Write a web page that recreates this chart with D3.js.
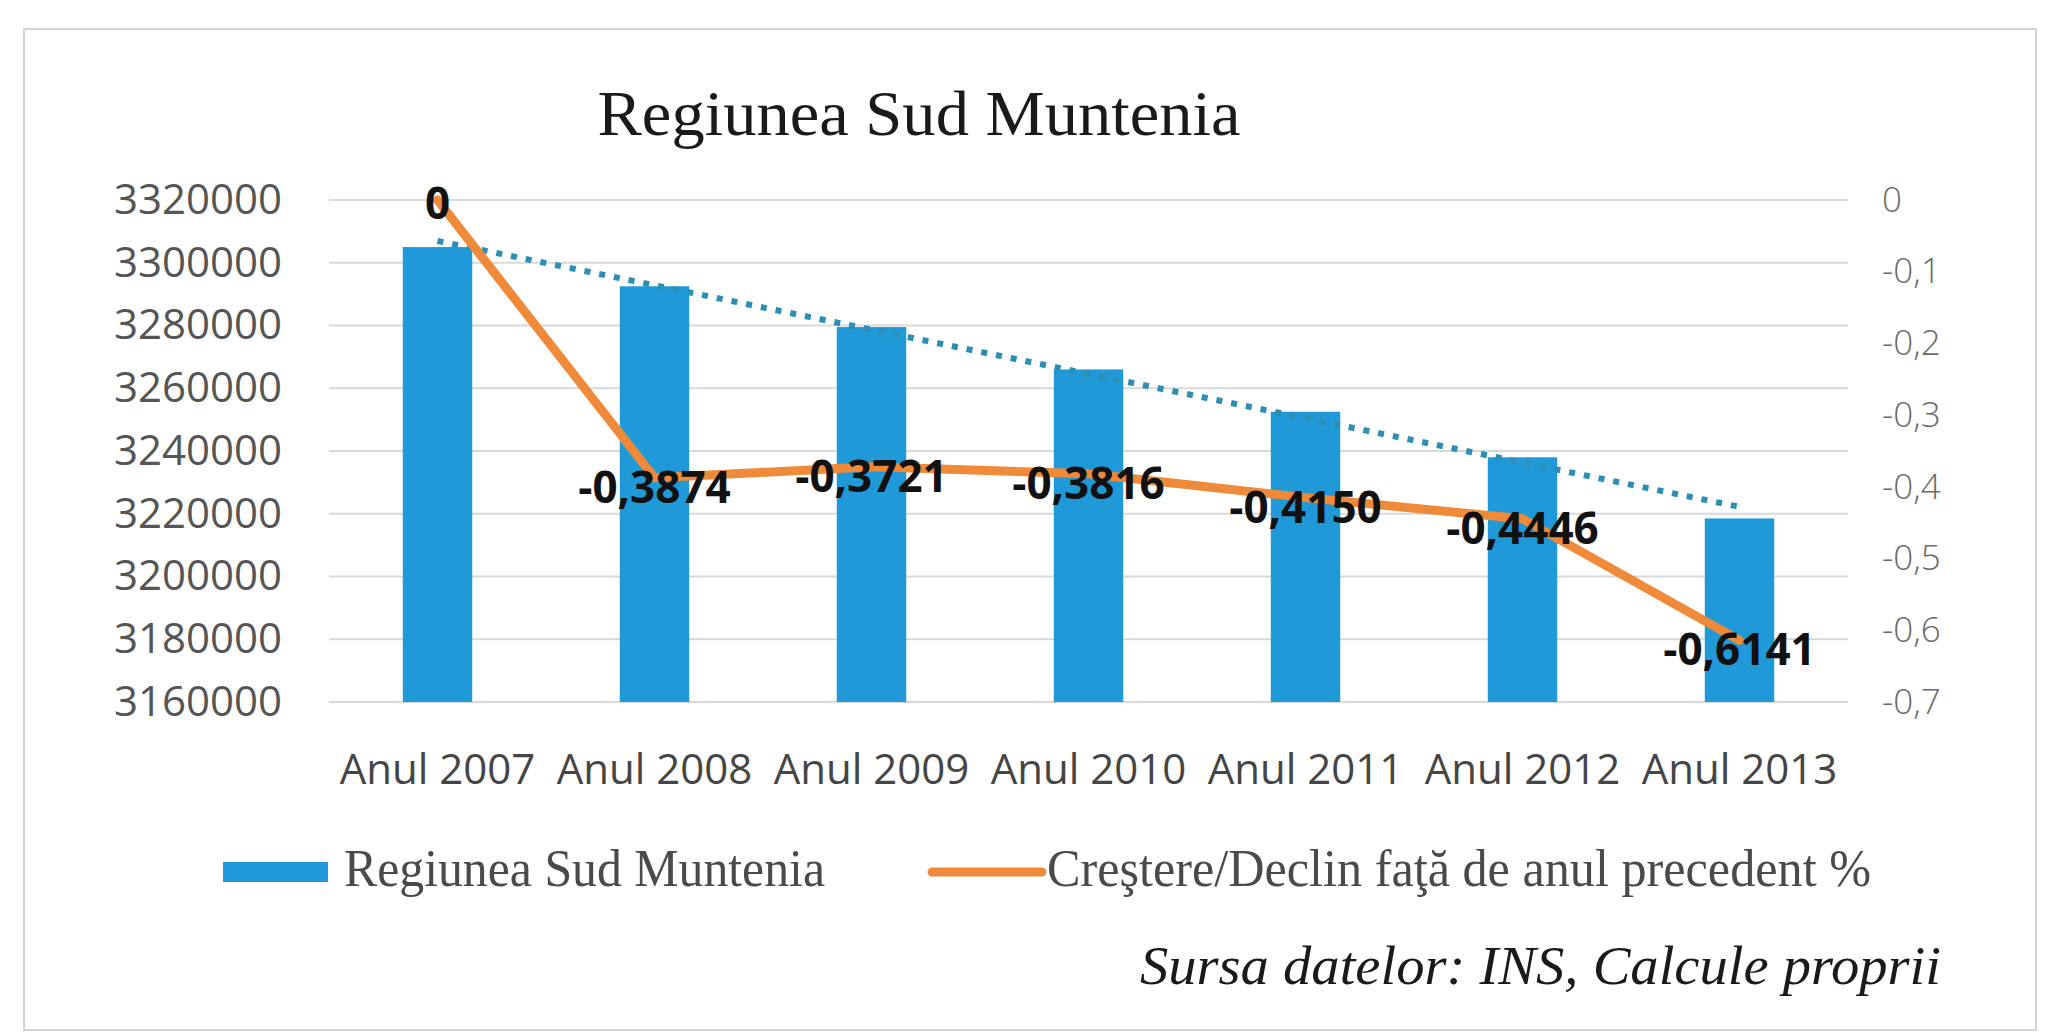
<!DOCTYPE html>
<html>
<head>
<meta charset="utf-8">
<script src="https://cdn.jsdelivr.net/npm/d3@7"></script>
<style>
  html, body { margin: 0; padding: 0; background: #fff; }
  svg { display: block; }
</style>
</head>
<body>
<div id="chart"></div>
<script>
// Regiunea Sud Muntenia: population (bars, left axis) and yearly change % (line, right axis)
const years = ['Anul 2007', 'Anul 2008', 'Anul 2009', 'Anul 2010', 'Anul 2011', 'Anul 2012', 'Anul 2013'];
const population = [3305000, 3292500, 3279500, 3266000, 3252500, 3238000, 3218500];
const change = [0, -0.3874, -0.3721, -0.3816, -0.4150, -0.4446, -0.6141];
const leftTicks = [3160000, 3180000, 3200000, 3220000, 3240000, 3260000, 3280000, 3300000, 3320000];
const rightTicks = [0, -0.1, -0.2, -0.3, -0.4, -0.5, -0.6, -0.7];
const legendLabels = ['Regiunea Sud Muntenia', 'Creştere/Declin faţă de anul precedent %'];

const W = 2059, H = 1035;
const plot = { left: 329, right: 1848, top: 200, bottom: 702 };
const BLUE = '#1f99d7', ORANGE = '#ef8a3a', TREND = '#2b8fb5';
const sans = "'Open Sans', 'Noto Sans', sans-serif";
const serif = "'Liberation Serif', 'DejaVu Serif', serif";

const ro = d3.formatLocale({ decimal: ',', thousands: '.', grouping: [3], currency: ['', ''], minus: '-' });
const fmtLabel = v => v === 0 ? '0' : ro.format('.4f')(v);
const fmtRight = v => v === 0 ? '0' : ro.format('.1f')(v);

const svg = d3.select('#chart').append('svg').attr('width', W).attr('height', H);

// frame of the scanned figure
svg.append('rect')
  .attr('x', 24).attr('y', 29).attr('width', 2012).attr('height', 1001)
  .attr('fill', 'none').attr('stroke', '#d4d4d4').attr('stroke-width', 2);

const x = d3.scaleBand().domain(years).range([plot.left, plot.right])
  .paddingInner(0.68).paddingOuter(0.34);
const cx = d => x(d) + x.bandwidth() / 2;
const y = d3.scaleLinear().domain([3160000, 3320000]).range([plot.bottom, plot.top]);
const y2 = d3.scaleLinear().domain([-0.7, 0]).range([plot.bottom, plot.top]);

// gridlines
svg.append('g').selectAll('line').data(leftTicks).join('line')
  .attr('x1', plot.left).attr('x2', plot.right)
  .attr('y1', d => y(d)).attr('y2', d => y(d))
  .attr('stroke', '#d9d9d9').attr('stroke-width', 2);

// left axis
const gl = svg.append('g')
  .attr('transform', `translate(${plot.left - 47},0)`)
  .call(d3.axisLeft(y).tickValues(leftTicks).tickSize(0).tickPadding(0).tickFormat(d3.format('d')));
gl.select('.domain').remove();
gl.selectAll('text').attr('font-family', sans).attr('font-size', 42).attr('fill', '#555');

// right axis
const gr = svg.append('g')
  .attr('transform', `translate(${plot.right + 34},0)`)
  .call(d3.axisRight(y2).tickValues(rightTicks).tickSize(0).tickPadding(0).tickFormat(fmtRight));
gr.select('.domain').remove();
gr.selectAll('text').attr('font-family', sans).attr('font-size', 35).attr('font-weight', 300).attr('fill', '#6a6a6a');

// x axis
const gx = svg.append('g')
  .attr('transform', `translate(0,${plot.bottom + 50})`)
  .call(d3.axisBottom(x).tickSize(0).tickPadding(0));
gx.select('.domain').remove();
gx.selectAll('text').attr('font-family', sans).attr('font-size', 42).attr('fill', '#454545')
  .attr('dy', '0.75em');

// bars
svg.append('g').selectAll('rect').data(years).join('rect')
  .attr('x', d => x(d)).attr('width', x.bandwidth())
  .attr('y', (d, i) => y(population[i]))
  .attr('height', (d, i) => y(3160000) - y(population[i]))
  .attr('fill', BLUE);

// linear trendline over the bars
const idx = d3.range(years.length);
const mx = d3.mean(idx), my = d3.mean(population);
const slope = d3.sum(idx, i => (i - mx) * (population[i] - my)) / d3.sum(idx, i => (i - mx) ** 2);
const trend = i => my + slope * (i - mx);
svg.append('line')
  .attr('x1', cx(years[0])).attr('y1', y(trend(0)))
  .attr('x2', cx(years[years.length - 1])).attr('y2', y(trend(years.length - 1)))
  .attr('stroke', TREND).attr('stroke-width', 6).attr('stroke-dasharray', '6,9');

// change line
const line = d3.line().x((d, i) => cx(years[i])).y(d => y2(d));
svg.append('path').datum(change)
  .attr('d', line).attr('fill', 'none')
  .attr('stroke', ORANGE).attr('stroke-width', 9)
  .attr('stroke-linejoin', 'round').attr('stroke-linecap', 'round');

// data labels
svg.append('g').selectAll('text').data(change).join('text')
  .attr('x', (d, i) => cx(years[i]))
  .attr('y', (d, i) => y2(d) + (i === 0 ? 2 : 8))
  .attr('text-anchor', 'middle').attr('dominant-baseline', 'central')
  .attr('font-family', sans).attr('font-size', 44).attr('font-weight', 700)
  .attr('fill', '#111')
  .text(fmtLabel);

// title
svg.append('text')
  .attr('x', 919).attr('y', 135).attr('text-anchor', 'middle')
  .attr('font-family', serif).attr('font-size', 64).attr('fill', '#1a1a1a')
  .attr('textLength', 643).attr('lengthAdjust', 'spacingAndGlyphs')
  .text('Regiunea Sud Muntenia');

// legend
const lg = svg.append('g');
lg.append('rect').attr('x', 223).attr('y', 862).attr('width', 105).attr('height', 20).attr('fill', BLUE);
lg.append('text').attr('x', 344).attr('y', 886)
  .attr('font-family', serif).attr('font-size', 52).attr('fill', '#4a4a4a')
  .attr('textLength', 481).attr('lengthAdjust', 'spacingAndGlyphs')
  .text(legendLabels[0]);
lg.append('line').attr('x1', 932).attr('x2', 1042).attr('y1', 872).attr('y2', 872)
  .attr('stroke', ORANGE).attr('stroke-width', 9).attr('stroke-linecap', 'round');
lg.append('text').attr('x', 1047).attr('y', 886)
  .attr('font-family', serif).attr('font-size', 52).attr('fill', '#4a4a4a')
  .attr('textLength', 824).attr('lengthAdjust', 'spacingAndGlyphs')
  .text(legendLabels[1]);

// source note
svg.append('text')
  .attr('x', 1941).attr('y', 984).attr('text-anchor', 'end')
  .attr('font-family', serif).attr('font-size', 54).attr('font-style', 'italic').attr('fill', '#1a1a1a')
  .attr('textLength', 801).attr('lengthAdjust', 'spacingAndGlyphs')
  .text('Sursa datelor: INS, Calcule proprii');
</script>
</body>
</html>
